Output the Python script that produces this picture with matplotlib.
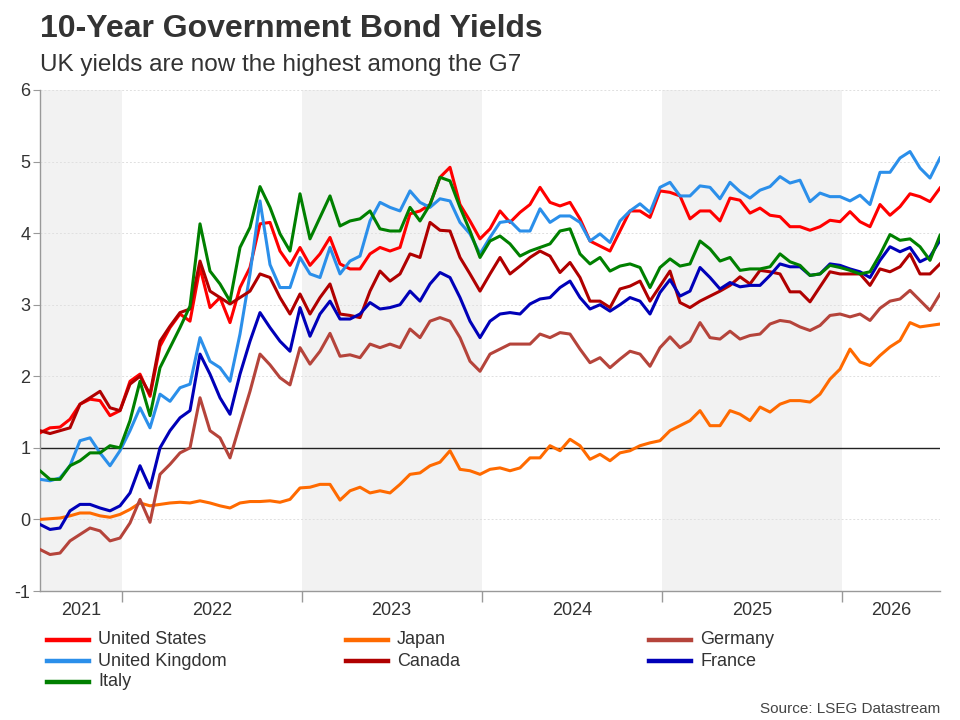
import matplotlib

matplotlib.use("Agg")
import matplotlib.pyplot as plt
import pandas as pd
from matplotlib.lines import Line2D

plt.rcParams["font.family"] = ["Liberation Sans", "DejaVu Sans"]
plt.rcParams["axes.unicode_minus"] = False

# roughly 3-weekly readings, mid-2021 to mid-2026
dates = pd.date_range("2021-07-19", "2026-07-19", periods=91)

united_states = [
    1.21, 1.28, 1.29, 1.40, 1.61, 1.68, 1.66, 1.45, 1.52, 1.93, 2.03, 1.72,
    2.42, 2.68, 2.87, 2.77, 3.52, 2.96, 3.10, 2.75, 3.24, 3.52, 4.13, 4.15,
    3.75, 3.55, 3.80, 3.55, 3.71, 3.94, 3.57, 3.50, 3.50, 3.71, 3.80,
    3.75, 3.80, 4.27, 4.31, 4.40, 4.78, 4.92, 4.40, 4.17, 3.92, 4.06, 4.31,
    4.15, 4.29, 4.40, 4.64, 4.43, 4.38, 4.43, 4.20, 3.89, 3.82, 3.75,
    4.03, 4.31, 4.31, 4.22, 4.59, 4.57, 4.52, 4.20, 4.31, 4.31, 4.17, 4.49,
    4.46, 4.28, 4.35, 4.25, 4.23, 4.09, 4.09, 4.04, 4.09, 4.18, 4.16,
    4.30, 4.16, 4.09, 4.40, 4.25, 4.37, 4.55, 4.51, 4.44, 4.63,
]
japan = [
    0.00, 0.01, 0.02, 0.05, 0.09, 0.09, 0.05, 0.03, 0.07, 0.14, 0.23, 0.19,
    0.21, 0.23, 0.24, 0.23, 0.26, 0.23, 0.19, 0.16, 0.23, 0.25, 0.25, 0.26,
    0.24, 0.28, 0.44, 0.45, 0.49, 0.49, 0.27, 0.40, 0.45, 0.37, 0.40,
    0.37, 0.49, 0.63, 0.65, 0.75, 0.80, 0.96, 0.70, 0.68, 0.63, 0.70, 0.72,
    0.68, 0.72, 0.86, 0.86, 1.03, 0.96, 1.12, 1.03, 0.84, 0.91, 0.82,
    0.93, 0.96, 1.03, 1.07, 1.10, 1.24, 1.31, 1.38, 1.52, 1.31, 1.31, 1.52,
    1.47, 1.38, 1.57, 1.50, 1.61, 1.66, 1.66, 1.64, 1.75, 1.96, 2.10,
    2.38, 2.20, 2.15, 2.29, 2.41, 2.50, 2.75, 2.69, 2.71, 2.73,
]
germany = [
    -0.42, -0.49, -0.47, -0.30, -0.21, -0.12, -0.16, -0.30, -0.26, -0.05, 0.28, -0.04,
    0.63, 0.77, 0.93, 1.00, 1.70, 1.24, 1.14, 0.86, 1.33, 1.79, 2.31, 2.16,
    1.98, 1.88, 2.40, 2.17, 2.35, 2.60, 2.28, 2.30, 2.26, 2.45, 2.40,
    2.45, 2.40, 2.66, 2.54, 2.77, 2.82, 2.77, 2.54, 2.21, 2.07, 2.31, 2.38,
    2.45, 2.45, 2.45, 2.59, 2.54, 2.61, 2.59, 2.38, 2.19, 2.26, 2.12,
    2.24, 2.35, 2.31, 2.14, 2.40, 2.55, 2.40, 2.49, 2.75, 2.54, 2.52, 2.63,
    2.52, 2.57, 2.59, 2.73, 2.78, 2.76, 2.69, 2.64, 2.71, 2.85, 2.87,
    2.83, 2.87, 2.78, 2.95, 3.05, 3.08, 3.20, 3.06, 2.92, 3.15,
]
united_kingdom = [
    0.56, 0.54, 0.58, 0.75, 1.10, 1.14, 0.93, 0.75, 0.96, 1.24, 1.56, 1.28,
    1.75, 1.65, 1.84, 1.89, 2.54, 2.21, 2.12, 1.93, 2.59, 3.43, 4.45, 3.56,
    3.24, 3.24, 3.66, 3.43, 3.38, 3.80, 3.43, 3.61, 3.68, 4.17, 4.43,
    4.36, 4.31, 4.59, 4.43, 4.36, 4.48, 4.45, 4.15, 3.99, 3.71, 3.94, 4.15,
    4.17, 4.03, 4.03, 4.34, 4.15, 4.24, 4.24, 4.15, 3.89, 3.99, 3.87,
    4.17, 4.31, 4.41, 4.29, 4.64, 4.71, 4.52, 4.52, 4.66, 4.64, 4.48, 4.71,
    4.58, 4.49, 4.60, 4.65, 4.79, 4.70, 4.74, 4.44, 4.56, 4.51, 4.51,
    4.45, 4.53, 4.40, 4.85, 4.85, 5.05, 5.14, 4.91, 4.77, 5.05,
]
canada = [
    1.24, 1.20, 1.24, 1.28, 1.61, 1.70, 1.79, 1.56, 1.52, 1.89, 2.00, 1.75,
    2.49, 2.70, 2.89, 2.94, 3.61, 3.19, 3.10, 3.01, 3.10, 3.19, 3.43, 3.38,
    3.10, 2.87, 3.15, 2.87, 3.10, 3.29, 2.87, 2.85, 2.82, 3.19, 3.47,
    3.33, 3.43, 3.71, 3.66, 4.15, 4.04, 4.03, 3.66, 3.43, 3.19, 3.43, 3.66,
    3.43, 3.54, 3.66, 3.75, 3.68, 3.45, 3.59, 3.38, 3.05, 3.05, 2.96,
    3.22, 3.26, 3.33, 3.05, 3.26, 3.47, 3.03, 2.96, 3.05, 3.12, 3.19, 3.27,
    3.39, 3.29, 3.48, 3.46, 3.43, 3.18, 3.18, 3.04, 3.25, 3.46, 3.43,
    3.43, 3.43, 3.27, 3.50, 3.46, 3.53, 3.71, 3.43, 3.43, 3.57,
]
france = [
    -0.07, -0.14, -0.12, 0.12, 0.21, 0.21, 0.16, 0.12, 0.19, 0.37, 0.75, 0.44,
    1.00, 1.24, 1.42, 1.52, 2.31, 2.03, 1.70, 1.47, 2.03, 2.49, 2.89, 2.68,
    2.49, 2.35, 2.96, 2.56, 2.87, 3.05, 2.80, 2.80, 2.87, 3.03, 2.94,
    2.96, 3.00, 3.19, 3.05, 3.29, 3.45, 3.38, 3.10, 2.77, 2.54, 2.77, 2.87,
    2.89, 2.87, 3.01, 3.08, 3.10, 3.24, 3.33, 3.10, 2.94, 3.00, 2.91,
    3.00, 3.10, 3.05, 2.87, 3.17, 3.35, 3.12, 3.19, 3.52, 3.38, 3.22, 3.31,
    3.25, 3.27, 3.27, 3.41, 3.57, 3.53, 3.53, 3.41, 3.43, 3.57, 3.55,
    3.50, 3.46, 3.38, 3.62, 3.81, 3.74, 3.80, 3.60, 3.67, 3.90,
]
italy = [
    0.68, 0.56, 0.56, 0.75, 0.82, 0.93, 0.93, 1.03, 1.00, 1.38, 1.93, 1.45,
    2.12, 2.40, 2.68, 2.98, 4.13, 3.47, 3.29, 3.05, 3.80, 4.08, 4.65, 4.36,
    3.99, 3.75, 4.55, 3.92, 4.22, 4.52, 4.10, 4.17, 4.20, 4.31, 4.06,
    4.03, 4.03, 4.36, 4.17, 4.40, 4.78, 4.73, 4.36, 4.03, 3.66, 3.89, 3.96,
    3.85, 3.68, 3.75, 3.80, 3.85, 4.03, 4.06, 3.71, 3.57, 3.66, 3.47,
    3.54, 3.57, 3.52, 3.24, 3.52, 3.64, 3.54, 3.57, 3.89, 3.78, 3.61, 3.66,
    3.48, 3.50, 3.50, 3.53, 3.71, 3.60, 3.55, 3.41, 3.43, 3.55, 3.52,
    3.48, 3.43, 3.46, 3.70, 3.98, 3.90, 3.92, 3.81, 3.62, 3.97,
]

series_names = ["United States", "Japan", "Germany", "United Kingdom", "Canada", "France", "Italy"]
series_values = [united_states, japan, germany, united_kingdom, canada, france, italy]
series_colors = ["#ff0000", "#ff6a00", "#b5443b", "#2b8fea", "#b00000", "#0000b8", "#008000"]

years = [2021, 2022, 2023, 2024, 2025, 2026]
shaded_years = [2021, 2023, 2025]
text_color = "#333333"

fig = plt.figure(figsize=(9.6, 7.2), dpi=100)
ax = fig.add_axes([40 / 960, 129 / 720, 900 / 960, 501 / 720])

start, end = dates[0], dates[-1]
for yr in shaded_years:
    lo = max(pd.Timestamp(f"{yr}-01-01"), start)
    hi = min(pd.Timestamp(f"{yr + 1}-01-01"), end)
    ax.axvspan(lo, hi, color="#f2f2f2", lw=0, zorder=0)

ax.set_ylim(-1, 6)
ax.set_xlim(start, end)
ax.set_yticks(range(-1, 7))
ax.yaxis.grid(True, linestyle=(0, (2, 2)), color="#e0e0e0", lw=0.7, zorder=1)
ax.axhline(1, color="#222222", lw=1.0, zorder=2)

for name, vals, col in zip(series_names, series_values, series_colors):
    ax.plot(dates, vals, color=col, lw=2.2, solid_joinstyle="round", zorder=3, label=name)

# year boundaries as tick marks, labels centred on the visible part of each year
bounds = [pd.Timestamp(f"{y}-01-01") for y in years[1:]]
mids = []
for y in years:
    lo = max(pd.Timestamp(f"{y}-01-01"), start)
    hi = min(pd.Timestamp(f"{y + 1}-01-01"), end)
    mids.append(lo + (hi - lo) / 2)
ax.set_xticks(bounds)
ax.set_xticklabels([])
ax.set_xticks(mids, minor=True)
ax.set_xticklabels([str(y) for y in years], minor=True)
ax.tick_params(axis="x", which="major", length=8, color="#999999", width=1)
ax.tick_params(axis="x", which="minor", length=0, pad=8, labelsize=13, labelcolor=text_color)
ax.tick_params(axis="y", length=5, color="#999999", pad=2, labelsize=13, labelcolor=text_color)

for side in ("top", "right"):
    ax.spines[side].set_visible(False)
for side in ("left", "bottom"):
    ax.spines[side].set_color("#999999")
    ax.spines[side].set_linewidth(1)

fig.text(40 / 960, 1 - 37 / 720, "10-Year Government Bond Yields", fontsize=23,
         fontweight="bold", color=text_color, va="baseline")
fig.text(40 / 960, 1 - 71 / 720, "UK yields are now the highest among the G7", fontsize=17.5,
         color=text_color, va="baseline")

# legend laid out in fixed columns like the original
col_x = [47, 346, 649]
row_y = [640, 661, 682]
for i, (name, col) in enumerate(zip(series_names, series_colors)):
    x0 = col_x[i % 3]
    y0 = 1 - row_y[i // 3] / 720
    fig.add_artist(Line2D([x0 / 960, (x0 + 42) / 960], [y0, y0], color=col, lw=3.2,
                          transform=fig.transFigure))
    fig.text((x0 + 51) / 960, y0, name, fontsize=13, color=text_color, va="center")

fig.text(940 / 960, 1 - 709 / 720, "Source: LSEG Datastream", fontsize=11,
         color="#444444", ha="right", va="center")

fig.savefig("out.png", dpi=100)
